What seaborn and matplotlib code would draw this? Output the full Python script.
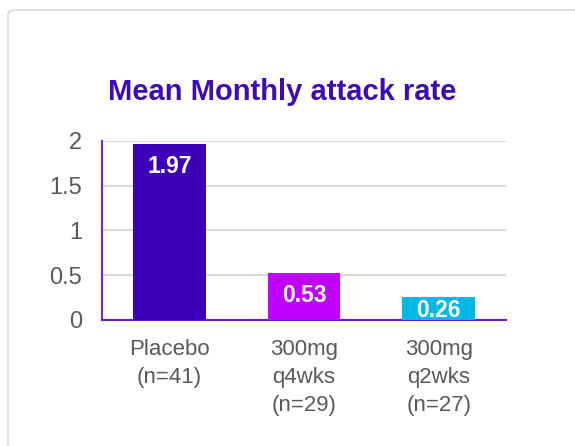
import matplotlib
matplotlib.use("Agg")
import matplotlib.pyplot as plt
from matplotlib.patches import FancyBboxPatch
import seaborn as sns
import pandas as pd

categories = ["Placebo\n(n=41)", "300mg\nq4wks\n(n=29)", "300mg\nq2wks\n(n=27)"]
values = [1.97, 0.53, 0.26]
bar_colors = ["#3D00B8", "#C000FF", "#00B8E6"]
yticks = [0, 0.5, 1, 1.5, 2]
ytick_labels = ["0", "0.5", "1", "1.5", "2"]
title = "Mean Monthly attack rate"

sns.set_theme(style="white")
plt.rcParams["font.family"] = ["Liberation Sans", "DejaVu Sans"]

df = pd.DataFrame({"group": categories, "rate": values})

fig = plt.figure(figsize=(5.75, 4.46), dpi=100)
fig.patch.set_facecolor("white")

# card outline
card = FancyBboxPatch((8 / 575, -0.05), 1.2, 1 - 10 / 446 + 0.05,
                      boxstyle="round,pad=0,rounding_size=0.012",
                      transform=fig.transFigure, facecolor="none",
                      edgecolor="#DADADA", linewidth=1.2, zorder=-10)
fig.patches.append(card)

ax = fig.add_axes([102 / 575, 1 - 320 / 446, 404 / 575, 179 / 446])
ax.set_zorder(5)
ax.set_facecolor("none")

sns.barplot(data=df, x="group", y="rate", hue="group", palette=bar_colors,
            width=0.54, legend=False, ax=ax, saturation=1, zorder=3,
            linewidth=0)

ax.set_ylim(0, 2)
ax.set_xlim(-0.5, 2.5)
ax.set_yticks(yticks)
ax.set_yticklabels(ytick_labels)
ax.yaxis.grid(True, color="#D9D9D9", linewidth=1.5, zorder=0)
ax.set_axisbelow(True)
ax.set_xlabel("")
ax.set_ylabel("")

for side in ["top", "right"]:
    ax.spines[side].set_visible(False)
ax.spines["left"].set_color("#6A2BE0")
ax.spines["left"].set_linewidth(1.5)
ax.spines["bottom"].set_color("#5A22C8")
ax.spines["bottom"].set_linewidth(1.5)

ax.tick_params(axis="y", length=0, pad=14.4, labelsize=17, labelcolor="#595959")
ax.tick_params(axis="x", length=0, pad=13.5, labelsize=16, labelcolor="#595959")
for lbl in ax.get_xticklabels():
    lbl.set_linespacing(1.45)

# value labels inside the bars; short bars get the label centred
for i, v in enumerate(values):
    if v > 0.4:
        ax.annotate(f"{v:.2f}", (i, v), xytext=(0, -8), textcoords="offset points",
                    ha="center", va="top", color="white", fontsize=16.5,
                    fontweight="bold", zorder=5)
    else:
        ax.text(i, v / 2, f"{v:.2f}", ha="center", va="center_baseline",
                color="white", fontsize=16.5, fontweight="bold", zorder=5)

fig.text(282 / 575, 1 - 92 / 446, title, ha="center", va="center",
         fontsize=21, fontweight="bold", color="#3D0BB8")

fig.savefig("out.png", dpi=100)
